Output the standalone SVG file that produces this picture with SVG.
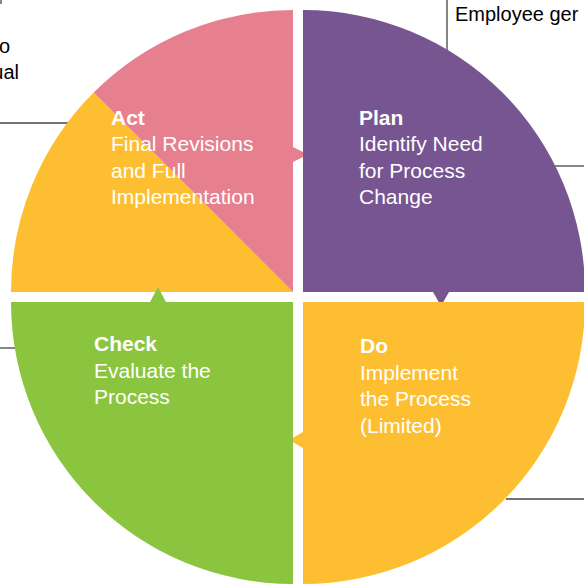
<svg xmlns="http://www.w3.org/2000/svg" width="584" height="586" viewBox="0 0 584 586">
<style>
.q{stroke:none}
.t{font-family:"Liberation Sans",Arial,sans-serif;font-size:21px;fill:#fff}
.b{font-weight:bold}
.c{stroke:#444;stroke-width:1.3;fill:none}
.o{font-family:"Liberation Sans",Arial,sans-serif;font-size:20px;fill:#000}
</style>
<rect width="584" height="586" fill="#fff"/>
<g id="connectors">
<line class="c" x1="0" y1="123" x2="68" y2="123"/>
<line class="c" x1="447" y1="0" x2="447" y2="50"/>
<line class="c" x1="555" y1="166" x2="584" y2="166"/>
<line class="c" x1="506" y1="499" x2="584" y2="499"/>
<line class="c" x1="0" y1="348" x2="16" y2="348"/>
<line class="c" x1="1" y1="0" x2="1" y2="4"/>
</g>
<g id="act">
<path class="q" fill="#FDBF31" d="M293,292 L93.6,92.6 A282,282 0 0 0 11,292 Z"/>
<path class="q" fill="#E6808F" d="M293,292 V162 L308,154.5 L293,147 V10 A282,282 0 0 0 93.6,92.6 Z"/>
<text class="t" x="111" y="124.5"><tspan class="b">Act</tspan><tspan x="111" y="151">Final Revisions</tspan><tspan x="111" y="177.5">and Full</tspan><tspan x="111" y="204">Implementation</tspan></text>
</g>
<g id="plan">
<path class="q" fill="#765591" d="M303,292 V10 A282,282 0 0 1 585,292 H449 L441,306 L433,292 Z"/>
<text class="t" x="359" y="124.5"><tspan class="b">Plan</tspan><tspan x="359" y="151">Identify Need</tspan><tspan x="359" y="177.5">for Process</tspan><tspan x="359" y="204">Change</tspan></text>
</g>
<g id="do">
<path class="q" fill="#FDBF31" d="M303,302 H585 A282,282 0 0 1 303,584 V448 L289,440 L303,432 Z"/>
<text class="t" x="360" y="353"><tspan class="b">Do</tspan><tspan x="360" y="380">Implement</tspan><tspan x="360" y="406">the Process</tspan><tspan x="360" y="433">(Limited)</tspan></text>
</g>
<g id="check">
<path class="q" fill="#8BC540" d="M293,302 V584 A282,282 0 0 1 11,302 H150 L158,287 L166,302 Z"/>
<text class="t" x="94" y="351"><tspan class="b">Check</tspan><tspan x="94" y="378">Evaluate the</tspan><tspan x="94" y="404">Process</tspan></text>
</g>
<g id="labels">
<text class="o" x="10" y="53" text-anchor="end">o</text>
<text class="o" x="19" y="79" text-anchor="end">ual</text>
<text class="o" x="455" y="21">Employee ger</text>
</g>
</svg>
